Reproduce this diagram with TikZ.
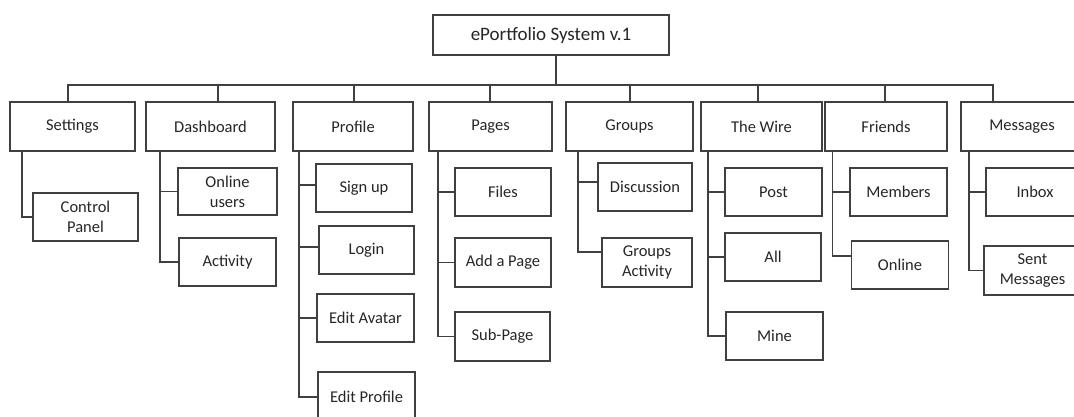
\documentclass[tikz,border=0pt]{standalone}
\usepackage{fontspec}
\setmainfont{Carlito}
\begin{document}
\begin{tikzpicture}[x=1pt,y=-1pt,
  line width=1.4pt, draw=black!75,
  box/.style={draw=black!75, line width=1.4pt, fill=white, inner sep=0pt, outer sep=0pt,
    align=center, text=black!85, font=\fontsize{16.5}{20}\selectfont},
  link/.style={draw=black!75, line width=1.4pt}]
\useasboundingbox (0,0) rectangle (1074,417);
\clip (0,0) rectangle (1074,417);

% root
\node[box, minimum width=236, minimum height=40, font=\fontsize{19}{22}\selectfont] (root) at (551,35) {ePortfolio System v.1};

% top level
\node[box, minimum width=125, minimum height=49] (settings)  at (72.5,126.5)  {Settings};
\node[box, minimum width=129, minimum height=49] (dashboard) at (210.5,126.5) {Dashboard};
\node[box, minimum width=120, minimum height=49] (profile)   at (353,126.5)   {Profile};
\node[box, minimum width=123, minimum height=49] (pages)     at (490.5,126.5) {Pages};
\node[box, minimum width=127, minimum height=49] (groups)    at (629.5,126.5) {Groups};
\node[box, minimum width=121, minimum height=49] (wire)      at (761.5,126.5) {The Wire};
\node[box, minimum width=122, minimum height=49] (friends)   at (886,126.5)   {Friends};
\node[box, minimum width=122, minimum height=49] (messages)  at (1022,126.5)  {Messages};

% bus
\coordinate (bus) at (556,85);
\draw[link] ([xshift=5]root.south) -- (bus);
\draw[link] ([xshift=-4.5]settings.north) -- ([xshift=-4.5]settings.north |- bus)
  -| ([xshift=-29]messages.north);
\draw[link] ([xshift=7.5]dashboard.north) -- ([xshift=7.5]dashboard.north |- bus);
\draw[link] ([xshift=1]profile.north) -- ([xshift=1]profile.north |- bus);
\draw[link] ([xshift=-0.5]pages.north) -- ([xshift=-0.5]pages.north |- bus);
\draw[link] ([xshift=0.5]groups.north) -- ([xshift=0.5]groups.north |- bus);
\draw[link] ([xshift=-3.5]wire.north) -- ([xshift=-3.5]wire.north |- bus);
\draw[link] ([xshift=-1]friends.north) -- ([xshift=-1]friends.north |- bus);

% Settings
\node[box, minimum width=105, minimum height=48] (cpanel) at (85.5,217) {Control\\Panel};
\draw[link] ([xshift=12]settings.south west) |- (cpanel.west);

% Dashboard
\node[box, minimum width=99, minimum height=47] (onusers) at (227.5,191.5) {Online\\users};
\node[box, minimum width=97, minimum height=48] (activity) at (227.5,262) {Activity};
\draw[link] ([xshift=14]dashboard.south west) |- (activity.west);
\draw[link] ([xshift=14]dashboard.south west) |- (onusers.west);

% Profile
\node[box, minimum width=96, minimum height=48] (signup) at (364,188) {Sign up};
\node[box, minimum width=95, minimum height=48] (login) at (366.5,250) {Login};
\node[box, minimum width=97, minimum height=48] (avatar) at (365.5,318) {Edit Avatar};
\node[box, minimum width=97, minimum height=50] (editprof) at (366.5,397) {Edit Profile};
\draw[link] ([xshift=6]profile.south west) |- (editprof.west);
\draw[link] ([xshift=6]profile.south west) |- ([yshift=3]signup.west);
\draw[link] ([xshift=6]profile.south west) |- ([yshift=3]login.west);
\draw[link] ([xshift=6]profile.south west) |- (avatar.west);

% Pages
\node[box, minimum width=96, minimum height=48] (files) at (503,192) {Files};
\node[box, minimum width=96, minimum height=49] (addpage) at (503,262.5) {Add a Page};
\node[box, minimum width=95, minimum height=49] (subpage) at (502.5,336.5) {Sub-Page};
\draw[link] ([xshift=9]pages.south west) |- (subpage.west);
\draw[link] ([xshift=9]pages.south west) |- (files.west);
\draw[link] ([xshift=9]pages.south west) |- (addpage.west);

% Groups
\node[box, minimum width=94, minimum height=48] (discuss) at (645,187) {Discussion};
\node[box, minimum width=90, minimum height=49] (gactivity) at (647,262.5) {Groups\\Activity};
\draw[link] ([xshift=12]groups.south west) |- ([yshift=10.5]gactivity.west);
\draw[link] ([xshift=12]groups.south west) |- ([yshift=5]discuss.west);

% The Wire
\node[box, minimum width=97, minimum height=48] (post) at (773.5,192) {Post};
\node[box, minimum width=96, minimum height=48] (all) at (773,257) {All};
\node[box, minimum width=97, minimum height=48] (mine) at (774.5,336) {Mine};
\draw[link] ([xshift=7]wire.south west) |- (mine.west);
\draw[link] ([xshift=7]wire.south west) |- (post.west);
\draw[link] ([xshift=7]wire.south west) |- (all.west);

% Friends
\node[box, minimum width=97, minimum height=48] (members) at (898.5,192) {Members};
\node[box, minimum width=97, minimum height=48] (online) at (900,265) {Online};
\draw[link] ([xshift=7.5]friends.south west) |- ([yshift=9]online.west);
\draw[link] ([xshift=7.5]friends.south west) |- (members.west);

% Messages
\node[box, minimum width=98, minimum height=48] (inbox) at (1035,192) {Inbox};
\node[box, minimum width=97, minimum height=49] (sent) at (1032.5,270.5) {Sent\\Messages};
\draw[link] ([xshift=8]messages.south west) |- (sent.west);
\draw[link] ([xshift=8]messages.south west) |- (inbox.west);
\end{tikzpicture}
\end{document}
